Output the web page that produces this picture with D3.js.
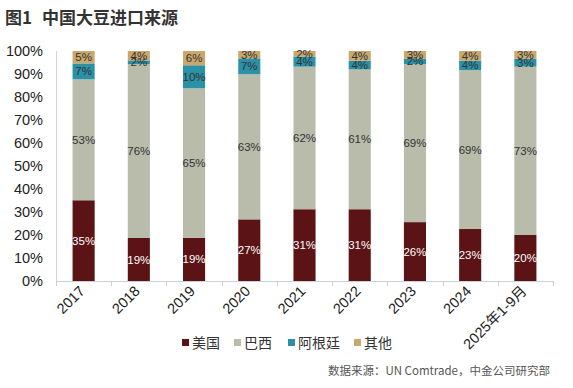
<!DOCTYPE html>
<html><head><meta charset="utf-8">
<script src="https://cdn.jsdelivr.net/npm/d3@7"></script>
<style>body{margin:0;background:#fff}svg{display:block}</style>
</head><body>
<svg id="c" width="573" height="388"></svg>
<script>
const categories = ["2017","2018","2019","2020","2021","2022","2023","2024","2025年1-9月"];
const seriesNames = ["美国","巴西","阿根廷","其他"];
const usa       = [35.1, 18.7, 18.8, 26.8, 31.2, 31.2, 25.6, 22.6, 20.0];
const brazil    = [52.6, 75.6, 65.0, 63.1, 62.0, 60.8, 68.7, 69.1, 73.2];
const argentina = [6.9, 1.6, 10.0, 6.9, 4.4, 3.8, 2.3, 4.1, 3.4];
const other     = [5.4, 4.1, 6.2, 3.2, 2.4, 4.2, 3.4, 4.2, 3.4];
const yTicks = [0,10,20,30,40,50,60,70,80,90,100];
const colors = ["#5c1315","#b9bcab","#2a91a6","#c9a86e"];

const svg = d3.select("#c");
const x = d3.scaleBand().domain(categories).range([56, 553]).paddingInner(0.6).paddingOuter(0.3);
const y = d3.scaleLinear().domain([0,100]).range([281, 51]);

const rows = categories.map((c,i)=>({cat:c, "美国":usa[i], "巴西":brazil[i], "阿根廷":argentina[i], "其他":other[i]}));
const stack = d3.stack().keys(seriesNames)(rows);

// title
const title = svg.append("text").attr("x",5).attr("y",24).attr("font-family","Noto Sans CJK SC").attr("font-weight","bold")
  .attr("font-size",17).attr("fill","#333");
title.append("tspan").text("图1");
title.append("tspan").attr("dx",10).text("中国大豆进口来源");

// y axis labels
svg.append("g").selectAll("text").data(yTicks).join("text")
  .attr("x",43).attr("y",d=>y(d)).attr("dy","0.35em").attr("text-anchor","end")
  .attr("font-family","Liberation Sans, Arial").attr("font-size",14.5).attr("fill","#222")
  .text(d=>d+"%");

// axes lines
svg.append("line").attr("x1",56.5).attr("x2",56.5).attr("y1",y(100)).attr("y2",y(0)).attr("stroke","#d0d6dc");
const step = x.step();
const xAxisG = svg.append("g");
xAxisG.append("line").attr("x1",56).attr("x2",553).attr("y1",281.5).attr("y2",281.5).attr("stroke","#c8d0d8");
const boundaries = categories.map(c=>x(c) - (step - x.bandwidth())/2)
  .concat([x(categories[categories.length-1]) + x.bandwidth() + (step - x.bandwidth())/2]);
xAxisG.selectAll("line.t").data(boundaries).join("line").attr("class","t")
  .attr("x1",d=>Math.round(d)+0.5).attr("x2",d=>Math.round(d)+0.5).attr("y1",281).attr("y2",286).attr("stroke","#c8d0d8");

// bars
const g = svg.append("g");
stack.forEach((s,si)=>{
  g.append("g").selectAll("rect").data(s).join("rect")
    .attr("x",d=>x(d.data.cat)).attr("width",x.bandwidth())
    .attr("y",d=>y(d[1])).attr("height",d=>y(d[0])-y(d[1]))
    .attr("fill",colors[si]);
});
stack.forEach((s,si)=>{
  g.append("g").selectAll("text").data(s).join("text")
    .attr("x",d=>x(d.data.cat)+x.bandwidth()/2).attr("y",d=>(y(d[0])+y(d[1]))/2).attr("dy","0.35em")
    .attr("text-anchor","middle").attr("font-family","Liberation Sans, Arial").attr("font-size",11.5)
    .attr("fill", si===0 ? "#fff" : "#333")
    .text(d=>Math.round(d[1]-d[0])+"%");
});

// x labels
svg.append("g").selectAll("text").data(categories).join("text")
  .attr("transform",d=>`translate(${x(d)+x.bandwidth()/2+2},${292}) rotate(-45)`)
  .attr("text-anchor","end").attr("font-family","Liberation Sans, Arial, Noto Sans CJK SC").attr("font-size",14.5).attr("fill","#222")
  .text(d=>d);

// legend
const legX = [182, 234, 288, 354];
const leg = svg.append("g").selectAll("g").data(seriesNames).join("g")
  .attr("transform",(d,i)=>`translate(${legX[i]},343)`);
leg.append("rect").attr("x",0).attr("y",-4).attr("width",7).attr("height",7).attr("fill",(d,i)=>colors[i]);
leg.append("text").attr("x",10).attr("y",0).attr("dy","0.35em").attr("font-family","Noto Sans CJK SC")
  .attr("font-size",14).attr("fill","#333").text(d=>d);

// source
svg.append("text").attr("x",550).attr("y",371).attr("dy","0.35em").attr("text-anchor","end")
  .attr("font-family","Noto Sans CJK SC").attr("font-size",11.5).attr("fill","#555")
  .text("数据来源：UN Comtrade，中金公司研究部");
</script>
</body></html>
